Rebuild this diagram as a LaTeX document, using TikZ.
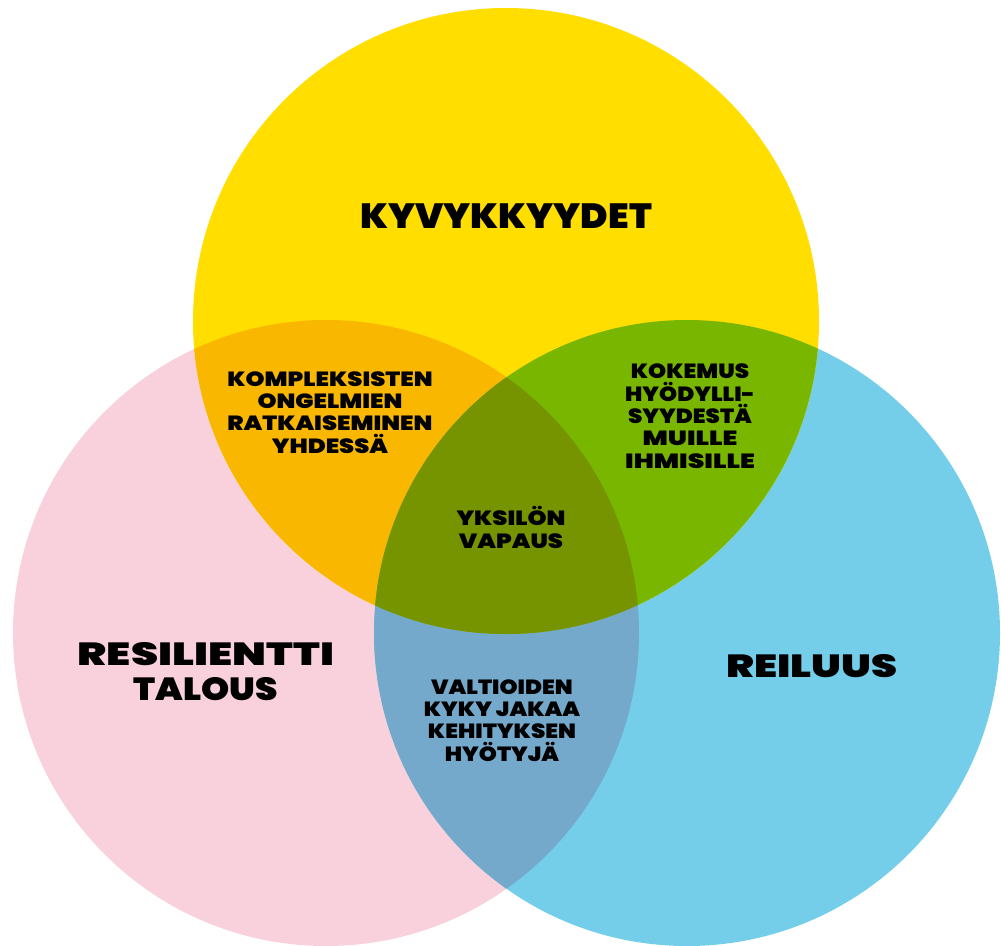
\documentclass[tikz,border=0pt]{standalone}
\usepackage{fontspec}
\newfontfamily\hvA{Poppins Black}[FakeStretch=1.06]
\newfontfamily\hvB{Poppins Black}[FakeStretch=1.12]
\newfontfamily\hvC{Poppins Black}[FakeStretch=1.18]
\newfontfamily\hvD{Poppins Black}[FakeStretch=1.30]
\newfontfamily\hvE{Poppins Black}[FakeStretch=1.36]
\definecolor{cyellow}{HTML}{FFDE00}
\definecolor{cpink}{HTML}{F9D1DC}
\definecolor{cblue}{HTML}{74CEEA}
\definecolor{corange}{HTML}{F9B700}
\definecolor{cgreen}{HTML}{78B600}
\definecolor{colive}{HTML}{769300}
\definecolor{csteel}{HTML}{75A9CB}
\tikzset{
  big/.style={anchor=base, align=center, inner sep=0pt, font=\hvA\fontsize{35}{35}\selectfont},
  mid/.style={anchor=base, align=center, inner sep=0pt, font=\fontsize{32}{35}\selectfont},
  small/.style={anchor=base, align=center, inner sep=0pt, font=\fontsize{20.5}{22.3}\selectfont},
}
\begin{document}
\begin{tikzpicture}[x=1pt,y=-1pt]
\fill[white] (0,0) rectangle (1001,945);
\useasboundingbox (0,0) rectangle (1001,945);
\def\R{313}
\coordinate (cy) at (506,321);
\coordinate (cp) at (326,633);
\coordinate (cb) at (687,633);
% base circles
\fill[cpink] (cp) circle (\R);
\fill[cblue] (cb) circle (\R);
\fill[cyellow] (cy) circle (\R);
% pairwise overlaps
\begin{scope}
  \clip (cp) circle (\R);
  \fill[corange] (cy) circle (\R);
  \fill[csteel] (cb) circle (\R);
\end{scope}
\begin{scope}
  \clip (cb) circle (\R);
  \fill[cgreen] (cy) circle (\R);
\end{scope}
% triple overlap
\begin{scope}
  \clip (cp) circle (\R);
  \clip (cb) circle (\R);
  \fill[colive] (cy) circle (\R);
\end{scope}
% labels (anchor base = baseline of last line)
\node[big] (kyv) at (506,228) {KYVYKKYYDET};
\node[mid] (res) at (206,700) {\hvE RESILIENTTI\\\hvB TALOUS};
\node[mid, font=\hvD\fontsize{32}{35}\selectfont] (rei) at (812,677) {REILUUS};
\node[small, font=\hvC\fontsize{20.5}{22.3}\selectfont] (kom) at (330,453) {KOMPLEKSISTEN\\ONGELMIEN\\RATKAISEMINEN\\YHDESSÄ};
\node[small] (kok) at (690,468) {\hvB KOKEMUS\\\hvB HYÖDYLLI-\\\hvB SYYDESTÄ\\\hvD MUILLE\\\hvD IHMISILLE};
\node[small, font=\hvC\fontsize{20.5}{22.3}\selectfont] (yks) at (511,548) {YKSILÖN\\VAPAUS};
\node[small, font=\hvB\fontsize{20.5}{22.3}\selectfont] (val) at (502,761) {VALTIOIDEN\\KYKY JAKAA\\KEHITYKSEN\\HYÖTYJÄ};
\end{tikzpicture}
\end{document}
